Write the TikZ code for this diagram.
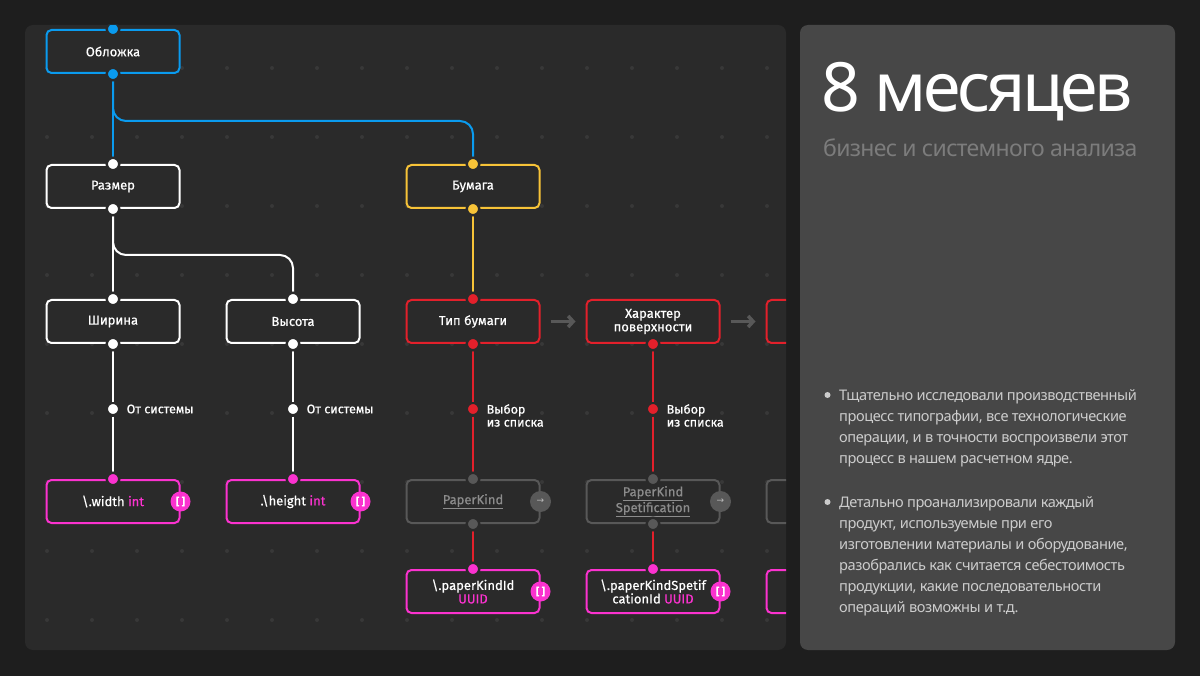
\documentclass[tikz,border=0pt]{standalone}
\usepackage{fontspec}
\setmainfont{Noto Sans}
\newfontfamily\nodefont{Fira Sans}[FakeBold=0.5]
\newfontfamily\headfont{Noto Sans}[LetterSpace=-3]
\newfontfamily\bigfont{Noto Sans}[LetterSpace=-5]
\newfontfamily\symfont{DejaVu Sans}
\usetikzlibrary{arrows.meta,positioning}

\definecolor{bgdark}{HTML}{1E1E1E}
\definecolor{panel}{HTML}{2A2A2A}
\definecolor{sidepanel}{HTML}{474747}
\definecolor{griddot}{HTML}{383838}
\definecolor{cblue}{HTML}{0A9BEF}
\definecolor{cyellow}{HTML}{F7C338}
\definecolor{cred}{HTML}{E3202B}
\definecolor{cpink}{HTML}{FB32CF}
\definecolor{cgrey}{HTML}{585858}
\definecolor{txtgrey}{HTML}{8C8C8C}
\definecolor{subgrey}{HTML}{7C7C7C}
\definecolor{bodytxt}{HTML}{CCCCCC}

\tikzset{
  box/.style={draw=#1, line width=2pt, rounded corners=5pt, fill=panel,
    minimum width=133pt, minimum height=43pt, inner sep=0pt, align=center,
    text=white, font=\nodefont\fontsize{13}{13.5}\selectfont},
  wire/.style={draw=#1, line width=2pt},
  port/.style={circle, fill=#1, draw=panel, line width=2.5pt,
    minimum size=12.5pt, inner sep=0pt},
  lbl/.style={text=white, align=left, inner sep=0pt,
    font=\nodefont\fontsize{12.5}{13}\selectfont},
  flow/.style={draw=cgrey, line width=3.5pt, -{Straight Barb[length=5pt,width=11pt]}},
  badge/.style={circle, fill=cpink, minimum size=20pt, inner sep=0pt, text=white,
    font=\nodefont\bfseries\fontsize{10}{10}\selectfont},
  gobtn/.style={circle, fill=cgrey, minimum size=21pt, inner sep=0pt, text=txtgrey!60!white,
    font=\symfont\fontsize{9}{9}\selectfont},
  side/.style={anchor=north west, inner sep=0pt, text=bodytxt, align=left,
    font=\headfont\fontsize{14.6}{21}\selectfont},
}

\begin{document}
\begin{tikzpicture}[x=1pt,y=-1pt]
\fill[bgdark] (0,0) rectangle (1200,676);
\useasboundingbox (0,0) rectangle (1200,676);

\fill[panel, rounded corners=8pt] (25,25) rectangle (786,650);
\fill[sidepanel, rounded corners=8pt] (800,25) rectangle (1175,650);

\begin{scope}
\clip[rounded corners=8pt] (25,25) rectangle (786,650);
\foreach \i in {0,...,16}
  \foreach \j in {0,...,8}
    \fill[griddot] (47+45*\i, 68+69*\j) circle [radius=2pt];

% tree of blocks
\node [box=cblue]   (oblozhka) at (113, 51.5) {Обложка};
\node [box=white]   (razmer)   at (113,186.5) {Размер};
\node [box=cyellow] (bumaga)   at (473,186.5) {Бумага};
\node [box=white]   (shirina)  at (113,321.5) {Ширина};
\node [box=white]   (vysota)   at (293,321.5) {Высота};
\node [box=cred]    (tip)      at (473,321.5) {Тип бумаги};
\node [box=cred]    (harakter) at (653,321.5) {Характер\\поверхности};
\node [box=cred]    (sled)     at (833,321.5) {};

\node [box=cgrey,text=txtgrey] (paperkind) at (473,501.5) {\underline{PaperKind}};
\node [box=cgrey,text=txtgrey] (spetif)    at (653,501.5) {\underline{PaperKind}\\\underline{Spetification}};
\node [box=cgrey]              (sledkind)  at (833,501.5) {};

\node [box=cpink] (width)  at (113,501.5) {\textbackslash.width \textcolor{cpink}{int}};
\node [box=cpink] (height) at (293,501.5) {.\textbackslash height \textcolor{cpink}{int}};
\node [box=cpink] (kindid) at (473,591.5) {\textbackslash.paperKindId\\\textcolor{cpink}{UUID}};
\node [box=cpink] (spetid) at (653,591.5) {\textbackslash.paperKindSpetif\\cationId \textcolor{cpink}{UUID}};
\node [box=cpink] (sledid) at (833,591.5) {};

% sources on the links
\node [port=white] (sys1) at (113,409) {};
\node [port=white] (sys2) at (293,409) {};
\node [port=cred]  (vyb1) at (473,409) {};
\node [port=cred]  (vyb2) at (653,409) {};
\node [lbl, right=6pt of sys1] (sys1txt) {От системы};
\node [lbl, right=6pt of sys2] (sys2txt) {От системы};
\node [lbl, right=6pt of vyb1, yshift=-6.5pt] (vyb1txt) {Выбор\\из списка};
\node [lbl, right=6pt of vyb2, yshift=-6.5pt] (vyb2txt) {Выбор\\из списка};

% links
\draw [wire=cblue] (oblozhka.south) -- (razmer.north);
\draw [wire=cblue, rounded corners=13pt] (oblozhka.south) -- ++(0,47) -| (bumaga.north);
\draw [wire=white] (razmer.south) -- (shirina.north);
\draw [wire=white, rounded corners=13pt] (razmer.south) -- ++(0,46) -| (vysota.north);
\draw [wire=cyellow] (bumaga.south) -- (tip.north);
\draw [wire=white] (shirina.south) -- (sys1) -- (width.north);
\draw [wire=white] (vysota.south) -- (sys2) -- (height.north);
\draw [wire=cred] (tip.south) -- (vyb1) -- (paperkind.north);
\draw [wire=cred] (harakter.south) -- (vyb2) -- (spetif.north);
\draw [wire=cred] (paperkind.south) -- (kindid.north);
\draw [wire=cred] (spetif.south) -- (spetid.north);

\draw [flow, shorten <=10pt, shorten >=10pt] (tip.east) -- (harakter.west);
\draw [flow, shorten <=10pt, shorten >=10pt] (harakter.east) -- (sled.west);

% ports
\foreach \a/\c [count=\k] in {oblozhka.north/cblue, oblozhka.south/cblue,
    razmer.north/white, razmer.south/white, bumaga.north/cyellow, bumaga.south/cyellow,
    shirina.north/white, shirina.south/white, vysota.north/white, vysota.south/white,
    tip.north/cred, tip.south/cred, harakter.south/cred,
    paperkind.north/cgrey, paperkind.south/cgrey, spetif.north/cgrey, spetif.south/cgrey,
    width.north/cpink, height.north/cpink, kindid.north/cpink, spetid.north/cpink}
  \node [port=\c] (port\k) at (\a) {};

% buttons
\node [gobtn] (kindgo)   at (paperkind.east) {→};
\node [gobtn] (spetifgo) at (spetif.east)    {→};
\node [badge] (widthls)  at (width.east)  {[\hspace{2.5pt}]};
\node [badge] (heightls) at (height.east) {[\hspace{2.5pt}]};
\node [badge] (kindls)   at (kindid.east) {[\hspace{2.5pt}]};
\node [badge] (spetls)   at (spetid.east) {[\hspace{2.5pt}]};
\end{scope}

% side panel
\node [anchor=base west, inner sep=0pt, text=white,
       font=\bigfont\fontsize{68}{68}\selectfont] (title) at (821,112) {8 месяцев};
\node [anchor=base west, inner sep=0pt, text=subgrey,
       font=\headfont\fontsize{23}{23}\selectfont] (subtitle) at (823,157) {бизнес и системного анализа};

\node [side] (bullet1) at (839,389)
  {Тщательно исследовали производственный\\процесс типографии, все технологические\\операции, и в точности воспроизвели этот\\процесс в нашем расчетном ядре.};
\node [side] (bullet2) at (839,496)
  {Детально проанализировали каждый\\продукт, используемые при его\\изготовлении материалы и оборудование,\\разобрались как считается себестоимость\\продукции, какие последовательности\\операций возможны и т.д.};
\fill [bodytxt] (827.5,395) circle [radius=3pt];
\fill [bodytxt] (827.5,502) circle [radius=3pt];
\end{tikzpicture}
\end{document}
